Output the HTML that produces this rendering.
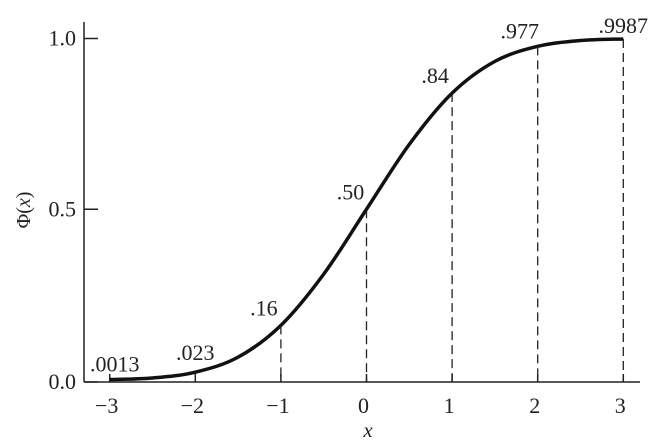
<!DOCTYPE html>
<html><head><meta charset="utf-8"><style>
body{margin:0;background:#fff}
text{font-family:"Liberation Serif",serif;fill:#222}
</style></head><body>
<svg id="chart" width="661" height="440" viewBox="0 0 661 440" xmlns="http://www.w3.org/2000/svg">
<g id="g"></g>
</svg>
<script>
const xs=[-3,-2.5,-2,-1.5,-1,-0.5,0,0.5,1,1.5,2,2.5,3];
const ys=[0.0013,0.006,0.023,0.067,0.16,0.31,0.5,0.69,0.84,0.933,0.977,0.994,0.9987];
const xTicks=[-3,-2,-1,0,1,2,3];
const xTickLabels=["\u22123","\u22122","\u22121","0","1","2","3"];
const yTicks=[0,0.5,1];
const yTickLabels=["0.0","0.5","1.0"];
const markX=[-3,-2,-1,0,1,2,3];
const markV=[0.0013,0.023,0.16,0.5,0.84,0.977,0.9987];
const markLabels=[".0013",".023",".16",".50",".84",".977",".9987"];
const dashed=[false,false,true,true,true,true,true];

const X=v=>366.5+v*85.6, Y=v=>380-v*341.5;
const g=document.getElementById('g'),NS='http://www.w3.org/2000/svg';
function mk(t,a){const e=document.createElementNS(NS,t);for(const k in a)e.setAttribute(k,a[k]);g.appendChild(e);return e;}
let e;
e=mk('line',{x1:84,y1:22,x2:84,y2:382,stroke:'#222','stroke-width':1.5});


e=mk('line',{x1:84,y1:382,x2:640,y2:382,stroke:'#222','stroke-width':1.5});


yTicks.forEach((v,i)=>{
 const yy=v===0?382:Y(v);
 e=mk('line',{x1:84,y1:yy,x2:98,y2:yy,stroke:'#222','stroke-width':1.5});
 
 
 e=mk('text',{x:76,y:yy+7,'text-anchor':'end','font-size':22});e.textContent=yTickLabels[i];
 
 
});
xTicks.forEach((v,i)=>{
 e=mk('line',{x1:X(v),y1:382,x2:X(v),y2:374,stroke:'#222','stroke-width':1.5});
 
 
 e=mk('text',{x:X(v)-3,y:413,'text-anchor':'middle','font-size':22});e.textContent=xTickLabels[i];
 
 
});
e=mk('text',{x:368,y:437,'text-anchor':'middle','font-size':21,'font-style':'italic'});e.textContent='x';


e=mk('text',{x:0,y:0,'text-anchor':'middle','font-size':20,transform:'translate(30,210) rotate(-90)'});
e.innerHTML='Φ(<tspan font-style="italic">x</tspan>)';


let pts=xs.map((x,i)=>[X(x),Y(ys[i])]);
let d='M'+pts[0][0]+','+pts[0][1];
for(let i=0;i<pts.length-1;i++){
 const p0=pts[Math.max(0,i-1)],p1=pts[i],p2=pts[i+1],p3=pts[Math.min(pts.length-1,i+2)];
 const c1=[p1[0]+(p2[0]-p0[0])/6,p1[1]+(p2[1]-p0[1])/6];
 const c2=[p2[0]-(p3[0]-p1[0])/6,p2[1]-(p3[1]-p1[1])/6];
 d+=` C${c1[0]},${c1[1]} ${c2[0]},${c2[1]} ${p2[0]},${p2[1]}`;
}
e=mk('path',{d:d,fill:'none',stroke:'#111','stroke-width':3.5});


const offX=[5,0,-17,-16,-17,-18,0];
const offY=[8,12,10,10,10,8,6];
markX.forEach((v,i)=>{
 if(dashed[i]){
  e=mk('line',{x1:X(v),y1:Y(markV[i]),x2:X(v),y2:382,stroke:'#222','stroke-width':1.3,'stroke-dasharray':'9,5'});
  
  
 }
 e=mk('text',{x:X(v)+offX[i],y:Y(markV[i])-offY[i],'text-anchor':'middle','font-size':22});
 e.textContent=markLabels[i];
 
 
});
</script>
</body></html>
